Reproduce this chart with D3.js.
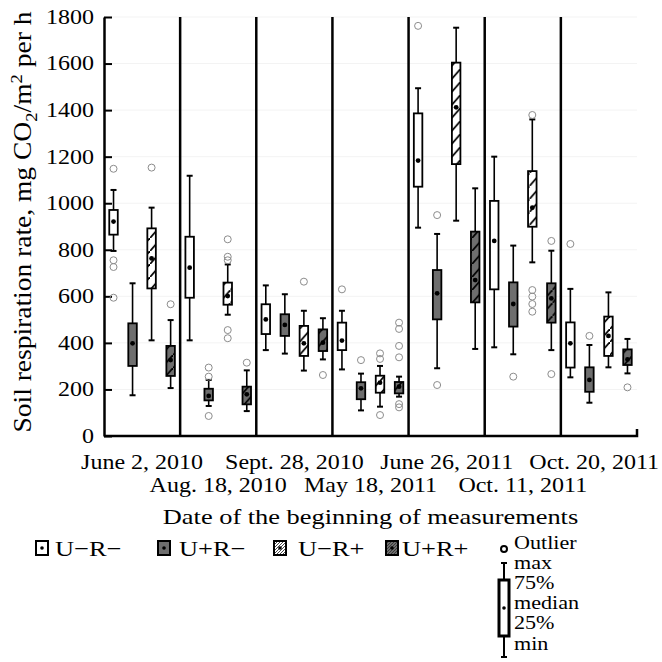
<!DOCTYPE html>
<html>
<head>
<meta charset="utf-8">
<script src="https://cdn.jsdelivr.net/npm/d3@7"></script>
<style>
  body { margin: 0; background: #fff; }
  text { font-family: "Liberation Serif", "Times New Roman", serif; fill: #000; }
</style>
</head>
<body>
<div id="chart"></div>
<script>
// categories
var dates = ["June 2, 2010", "Aug. 18, 2010", "Sept. 28, 2010", "May 18, 2011",
             "June 26, 2011", "Oct. 11, 2011", "Oct. 20, 2011"];
var treatments = ["U−R−", "U+R−", "U−R+", "U+R+"];
var yTicks = [0, 200, 400, 600, 800, 1000, 1200, 1400, 1600, 1800];

// box statistics, one row per date, one value per treatment
var mins = [
  [795, 175, 411, 206],
  [411, 129, 521, 107],
  [369, 354, 281, 329],
  [286, 110, 126, 169],
  [895, 291, 925, 374],
  [381, 351, 746, 369],
  [252, 143, 295, 269]
];
var q1s = [
  [865, 301, 634, 258],
  [594, 153, 564, 136],
  [438, 430, 344, 365],
  [369, 158, 186, 183],
  [1071, 501, 1168, 574],
  [630, 470, 899, 487],
  [294, 190, 344, 305]
];
var medians = [
  [921, 398, 763, 326],
  [723, 172, 601, 179],
  [501, 477, 398, 401],
  [410, 205, 229, 212],
  [1183, 613, 1412, 670],
  [838, 567, 981, 591],
  [398, 241, 430, 329]
];
var q3s = [
  [971, 484, 892, 387],
  [856, 203, 659, 212],
  [566, 523, 473, 458],
  [487, 231, 259, 232],
  [1386, 713, 1604, 878],
  [1010, 660, 1138, 656],
  [488, 295, 513, 372]
];
var maxs = [
  [1057, 656, 981, 498],
  [1118, 241, 737, 282],
  [647, 609, 538, 506],
  [538, 268, 301, 255],
  [1494, 868, 1754, 1064],
  [1200, 818, 1360, 796],
  [632, 391, 617, 417]
];
var outliers = [
  [[1148, 755, 726, 594], [], [1153], [566]],
  [[], [294, 255, 86], [845, 770, 755, 455, 420], [315]],
  [[], [], [663], [262]],
  [[630], [326], [355, 331, 90], [487, 460, 387, 338, 137, 123]],
  [[1762], [949, 219], [], []],
  [[], [255], [1379, 627, 599, 567, 534], [838, 266]],
  [[825], [430], [], [209]]
];

var boxFill = ["#ffffff", "#6e6e6e", "#ffffff", "#6e6e6e"];
var hatched = [false, false, true, true];
var textStretch = 1.2;

// set the dimensions and margins of the graph
var margin = {top: 17, right: 25, bottom: 226, left: 104},
    width = 662 - margin.left - margin.right,
    height = 662 - margin.top - margin.bottom;

var svg = d3.select("#chart")
  .append("svg")
    .attr("width", 662)
    .attr("height", 662);

var defs = svg.append("defs");
defs.append("pattern")
    .attr("id", "hatch")
    .attr("patternUnits", "userSpaceOnUse")
    .attr("width", 11.5)
    .attr("height", 13)
  .append("path")
    .attr("d", "M-1,14.13L12.5,-1.13")
    .attr("stroke", "#000")
    .attr("stroke-width", 1.8);
defs.append("pattern")
    .attr("id", "hatchFine")
    .attr("patternUnits", "userSpaceOnUse")
    .attr("width", 3)
    .attr("height", 3)
  .append("path")
    .attr("d", "M-1,4L4,-1")
    .attr("stroke", "#333")
    .attr("stroke-width", 0.9);

var g = svg.append("g")
    .attr("transform", "translate(" + margin.left + "," + margin.top + ")");

// scales
var x0 = d3.scaleBand().domain(dates).range([0, width]);
var x1 = d3.scaleBand().domain(treatments).range([0, x0.bandwidth()]);
var y = d3.scaleLinear().domain([0, 1800]).range([height, 0]);

var boxW = 8.5, capW = 6;

// faint grid
g.selectAll(".grid")
  .data(yTicks.slice(1))
  .enter().append("line")
    .attr("x1", 0).attr("x2", width)
    .attr("y1", function(d) { return y(d); })
    .attr("y2", function(d) { return y(d); })
    .attr("stroke", "#f3f3f3")
    .attr("stroke-width", 1);

// separators between dates
g.selectAll(".sep")
  .data(dates.slice(1))
  .enter().append("line")
    .attr("x1", function(d) { return x0(d); })
    .attr("x2", function(d) { return x0(d); })
    .attr("y1", y(1800)).attr("y2", height)
    .attr("stroke", "#000")
    .attr("stroke-width", 2.5);

// Y axis
var yAxis = g.append("g")
    .call(d3.axisLeft(y).tickValues(yTicks).tickFormat(d3.format("d"))
      .tickSizeInner(-8).tickSizeOuter(0).tickPadding(10));
yAxis.select(".domain").attr("stroke-width", 2.5);
yAxis.selectAll(".tick line").attr("stroke-width", 2);
yAxis.selectAll(".tick text")
    .attr("x", 0)
    .attr("font-size", 20)
    .attr("font-family", "Liberation Serif, serif")
    .attr("transform", "translate(-10,0) scale(" + textStretch + ",1)");

// X axis line with the small end tick
var xr = x0.range();
g.append("path")
    .attr("d", "M" + xr[0] + "," + height + "H" + xr[1] + "V" + (height - 7))
    .attr("fill", "none")
    .attr("stroke", "#000")
    .attr("stroke-width", 2.5);

// flatten data
var rows = [];
dates.forEach(function(d, i) {
  treatments.forEach(function(t, j) {
    rows.push({date: d, trt: t, j: j,
      min: mins[i][j], q1: q1s[i][j], med: medians[i][j], q3: q3s[i][j], max: maxs[i][j],
      out: outliers[i][j]});
  });
});

function cx(d) { return x0(d.date) + x1(d.trt) + x1.bandwidth() / 2; }

var boxes = g.selectAll(".box")
  .data(rows)
  .enter().append("g")
    .attr("class", "box");

boxes.append("line")
    .attr("x1", cx).attr("x2", cx)
    .attr("y1", function(d) { return y(d.min); })
    .attr("y2", function(d) { return y(d.max); })
    .attr("stroke", "#000")
    .attr("stroke-width", 1.6);

["min", "max"].forEach(function(k) {
  boxes.append("line")
      .attr("x1", function(d) { return cx(d) - capW / 2; })
      .attr("x2", function(d) { return cx(d) + capW / 2; })
      .attr("y1", function(d) { return y(d[k]); })
      .attr("y2", function(d) { return y(d[k]); })
      .attr("stroke", "#000")
      .attr("stroke-width", 2);
});

boxes.append("rect")
    .attr("x", function(d) { return cx(d) - boxW / 2; })
    .attr("y", function(d) { return y(d.q3); })
    .attr("width", boxW)
    .attr("height", function(d) { return y(d.q1) - y(d.q3); })
    .attr("fill", function(d) { return boxFill[d.j]; });

boxes.filter(function(d) { return hatched[d.j]; })
  .append("rect")
    .attr("x", function(d) { return cx(d) - boxW / 2; })
    .attr("y", function(d) { return y(d.q3); })
    .attr("width", boxW)
    .attr("height", function(d) { return y(d.q1) - y(d.q3); })
    .attr("fill", "url(#hatch)");

boxes.append("rect")
    .attr("x", function(d) { return cx(d) - boxW / 2; })
    .attr("y", function(d) { return y(d.q3); })
    .attr("width", boxW)
    .attr("height", function(d) { return y(d.q1) - y(d.q3); })
    .attr("fill", "none")
    .attr("stroke", "#000")
    .attr("stroke-width", 1.8);

boxes.append("circle")
    .attr("cx", cx)
    .attr("cy", function(d) { return y(d.med); })
    .attr("r", 2.4)
    .attr("fill", "#000");

boxes.selectAll(".out")
  .data(function(d) { return d.out.map(function(v) { return {v: v, p: d}; }); })
  .enter().append("circle")
    .attr("cx", function(o) { return cx(o.p); })
    .attr("cy", function(o) { return y(o.v); })
    .attr("r", 3.5)
    .attr("fill", "none")
    .attr("stroke", "#8c8c8c")
    .attr("stroke-width", 1);

// date labels in two staggered rows
g.selectAll(".dlab")
  .data(dates)
  .enter().append("text")
    .attr("font-size", 20)
    .attr("text-anchor", "middle")
    .attr("transform", function(d, i) {
      var px = x0(d) + x0.bandwidth() / 2;
      var py = height + (i % 2 === 0 ? 33 : 56);
      return "translate(" + px + "," + py + ") scale(" + textStretch + ",1)";
    })
    .text(function(d) { return d; })
    .each(function(d, i) {
      // keep the last label inside the page
      var w = this.getComputedTextLength() * textStretch;
      var px = x0(d) + x0.bandwidth() / 2;
      var limit = 662 - margin.left - 3;
      if (px + w / 2 > limit) {
        px = limit - w / 2;
        d3.select(this).attr("transform", "translate(" + px + "," + (height + (i % 2 === 0 ? 33 : 56)) + ") scale(" + textStretch + ",1)");
      }
    });

// axis titles
g.append("text")
    .attr("font-size", 22)
    .attr("text-anchor", "middle")
    .attr("transform", "translate(" + (width / 2) + "," + (height + 88) + ") scale(" + textStretch + ",1)")
    .text("Date of the beginning of measurements");

var yt = svg.append("text")
    .attr("font-size", 22)
    .attr("text-anchor", "middle")
    .attr("transform", "translate(31,222) rotate(-90) scale(1.25,1.1)");
yt.append("tspan").text("Soil respiration rate, mg CO");
yt.append("tspan").attr("font-size", 15).attr("dy", 5).text("2");
yt.append("tspan").attr("dy", -5).text("/m");
yt.append("tspan").attr("font-size", 15).attr("dy", -8).text("2");
yt.append("tspan").attr("dy", 8).text(" per h");

// legend
var legX = [36, 158, 274, 386];
var legTX = [55, 179, 298, 402];
var leg = svg.append("g");
treatments.forEach(function(t, j) {
  leg.append("rect")
      .attr("x", legX[j]).attr("y", 541)
      .attr("width", 12).attr("height", 14)
      .attr("fill", boxFill[j]);
  if (hatched[j]) {
    leg.append("rect")
        .attr("x", legX[j]).attr("y", 541)
        .attr("width", 12).attr("height", 14)
        .attr("fill", "url(#hatchFine)");
  }
  leg.append("rect")
      .attr("x", legX[j]).attr("y", 541)
      .attr("width", 12).attr("height", 14)
      .attr("fill", "none")
      .attr("stroke", "#000")
      .attr("stroke-width", 2);
  leg.append("circle")
      .attr("cx", legX[j] + 6).attr("cy", 548)
      .attr("r", 1.8).attr("fill", "#000");
  leg.append("text")
      .attr("font-size", 22)
      .attr("transform", "translate(" + legTX[j] + ",556) scale(" + textStretch + ",1)")
      .text(t);
});

// key for the box parts
leg.append("circle")
    .attr("cx", 504).attr("cy", 549).attr("r", 3)
    .attr("fill", "#fff").attr("stroke", "#000").attr("stroke-width", 2);
leg.append("line").attr("x1", 504).attr("x2", 504).attr("y1", 563).attr("y2", 657)
    .attr("stroke", "#000").attr("stroke-width", 2);
[563, 657].forEach(function(v) {
  leg.append("line").attr("x1", 501).attr("x2", 507).attr("y1", v).attr("y2", v)
      .attr("stroke", "#000").attr("stroke-width", 2);
});
leg.append("rect").attr("x", 499).attr("y", 580).attr("width", 10).attr("height", 56)
    .attr("fill", "#fff").attr("stroke", "#000").attr("stroke-width", 3);
leg.append("circle").attr("cx", 504).attr("cy", 608).attr("r", 1.8).attr("fill", "#000");

var keyLabels = ["Outlier", "max", "75%", "median", "25%", "min"];
var keyY = [549, 569, 589, 609, 629, 650];
keyLabels.forEach(function(k, i) {
  leg.append("text")
      .attr("font-size", 17)
      .attr("transform", "translate(514," + keyY[i] + ") scale(1.3,1.1)")
      .text(k);
});
</script>
</body>
</html>
